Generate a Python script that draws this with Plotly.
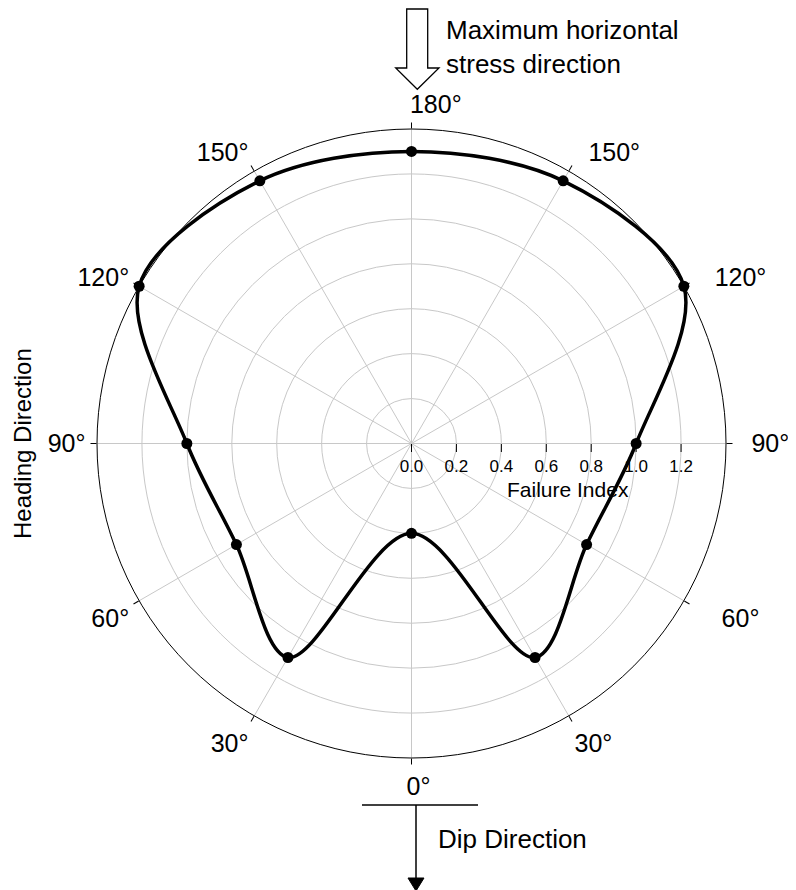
import plotly.graph_objects as go

# ---- data ----
heading_deg = [0, 30, 60, 90, 120, 150, 180]
failure_index = [0.40, 1.10, 0.90, 1.00, 1.40, 1.35, 1.30]
radial_ticks = [0.0, 0.2, 0.4, 0.6, 0.8, 1.0, 1.2]
angle_ticks = [0, 30, 60, 90, 120, 150, 180, 210, 240, 270, 300, 330]
angle_labels = ["0°", "30°", "60°", "90°", "120°", "150°", "180°",
                "150°", "120°", "90°", "60°", "30°"]

# symmetric about the dip direction: 0..180 on the left, mirrored on the right, closed loop
theta_full = heading_deg + [360 - h for h in heading_deg[-2:0:-1]] + [heading_deg[0]]
r_full = failure_index + failure_index[-2:0:-1] + [failure_index[0]]

W, H = 796, 890
OFF = 8  # page body margin
FONT = "Liberation Sans, Arial, sans-serif"
NB = "\u00a0"


def px(x):
    return (x - OFF) / W


def py(y):
    return 1 - (y - OFF) / H


cx, cy, R = 411.5, 443.5, 314.5
RMAX = 1.4
RMAX2 = 1.5
R2 = R * RMAX2 / RMAX

# label padding (non-breaking spaces) to mimic the reference's label offsets
label_pad = {0: 2, 180: 7, 210: 2, 240: 3, 270: 2, 300: 4}
tick_text = [NB * label_pad.get(v, 0) + lab for v, lab in zip(angle_ticks, angle_labels)]

fig = go.Figure()
# points on the main polar
fig.add_trace(go.Scatterpolar(
    r=r_full[:-1], theta=theta_full[:-1], mode="markers", subplot="polar",
    marker=dict(color="black", size=11),
    cliponaxis=False, showlegend=False,
))
# curve on an overlay polar (same centre and scale, wider clip) so the
# spline is not cut at the outer ring
fig.add_trace(go.Scatterpolar(
    r=r_full, theta=theta_full, mode="lines", subplot="polar2",
    line=dict(color="black", width=3.5, shape="spline", smoothing=0.95),
    hoverinfo="skip", showlegend=False,
))

hidden_ang = dict(rotation=270, direction="clockwise", showgrid=False, showline=False,
                  showticklabels=False, ticks="")
hidden_rad = dict(range=[0, RMAX2], showgrid=False, showline=False,
                  showticklabels=False, ticks="")

fig.update_layout(
    width=W, height=H,
    margin=dict(l=0, r=0, t=0, b=0),
    paper_bgcolor="white", plot_bgcolor="white",
    font=dict(family=FONT, color="black"),
    polar=dict(
        domain=dict(x=[px(cx - R), px(cx + R)], y=[py(cy + R), py(cy - R)]),
        bgcolor="white",
        angularaxis=dict(
            rotation=270, direction="clockwise",
            tickmode="array", tickvals=angle_ticks, ticktext=tick_text,
            tickfont=dict(size=25, family=FONT, color="black"),
            ticks="outside", ticklen=6, tickcolor="black",
            showline=True, linecolor="black", linewidth=1,
            showgrid=True, gridcolor="#c8c8c8", gridwidth=1,
        ),
        radialaxis=dict(
            range=[0, RMAX], angle=0, side="clockwise",
            tickmode="array", tickvals=radial_ticks,
            ticktext=[f"{v:.1f}" for v in radial_ticks],
            tickfont=dict(size=17, family=FONT, color="black"),
            ticks="outside", ticklen=8, tickcolor="black",
            showline=False,
            showgrid=True, gridcolor="#c8c8c8", gridwidth=1,
        ),
    ),
    polar2=dict(
        domain=dict(x=[px(cx - R2), px(cx + R2)], y=[py(cy + R2), py(cy - R2)]),
        bgcolor="rgba(0,0,0,0)",
        angularaxis=hidden_ang,
        radialaxis=hidden_rad,
    ),
)

# top hollow arrow (maximum horizontal stress)
top_arrow = [(406.7, 9), (427.7, 9), (427.7, 68), (439, 68),
             (417.3, 89.3), (395.7, 68), (406.7, 68)]
path = "M " + " L ".join(f"{px(x):.5f},{py(y):.5f}" for x, y in top_arrow) + " Z"
fig.add_shape(type="path", path=path, xref="paper", yref="paper",
              line=dict(color="black", width=1.3), fillcolor="white")

# bottom dip-direction marker
fig.add_shape(type="line", xref="paper", yref="paper",
              x0=px(362), x1=px(478), y0=py(805), y1=py(805),
              line=dict(color="black", width=1.5))
fig.add_shape(type="line", xref="paper", yref="paper",
              x0=px(416), x1=px(416), y0=py(805), y1=py(880),
              line=dict(color="black", width=1.5))
tri = [(408, 878), (424, 878), (416, 891)]
path2 = "M " + " L ".join(f"{px(x):.5f},{py(y):.5f}" for x, y in tri) + " Z"
fig.add_shape(type="path", path=path2, xref="paper", yref="paper",
              line=dict(color="black", width=1), fillcolor="black")

fig.add_annotation(x=px(444), y=py(47), xref="paper", yref="paper",
                   text="Maximum horizontal<br>stress direction",
                   showarrow=False, xanchor="left", yanchor="middle", align="left",
                   font=dict(size=26, family=FONT, color="black"))
fig.add_annotation(x=px(436), y=py(839), xref="paper", yref="paper",
                   text="Dip Direction", showarrow=False,
                   xanchor="left", yanchor="middle",
                   font=dict(size=26, family=FONT, color="black"))
fig.add_annotation(x=px(22), y=py(444), xref="paper", yref="paper",
                   text="Heading Direction", showarrow=False, textangle=-90,
                   xanchor="center", yanchor="middle",
                   font=dict(size=24, family=FONT, color="black"))
fig.add_annotation(x=px(568), y=py(489), xref="paper", yref="paper",
                   text="Failure Index", showarrow=False,
                   xanchor="center", yanchor="middle",
                   font=dict(size=21, family=FONT, color="black"))

fig.write_html("out.html")
